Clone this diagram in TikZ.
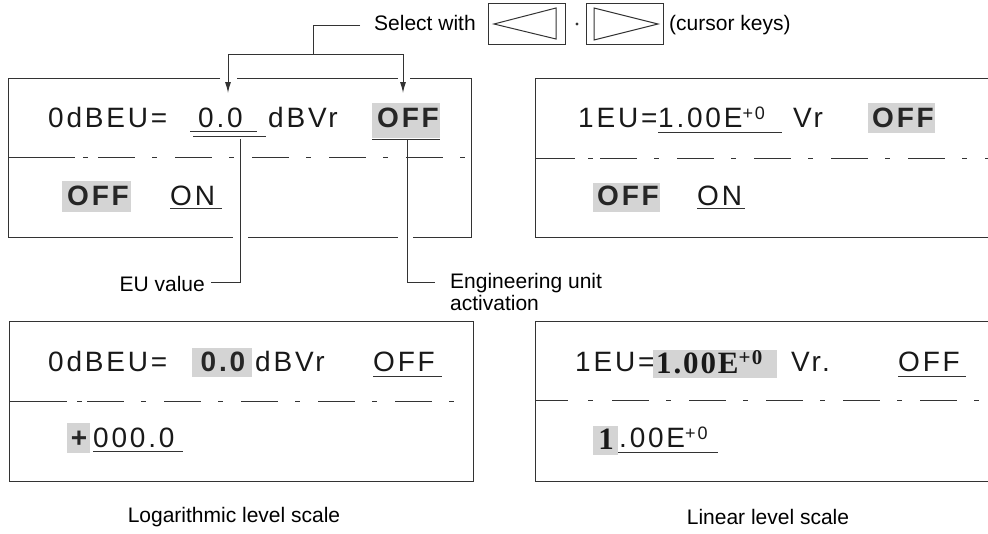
\documentclass[tikz,border=0pt]{standalone}
\usepackage{fontspec}
\setmainfont{Liberation Sans}
\newfontfamily\dispfont[LetterSpace=10]{Liberation Sans}
\newfontfamily\serfont[LetterSpace=6]{Liberation Serif}
\usetikzlibrary{arrows.meta}
\newcommand\supx[1]{\raisebox{8pt}{\fontsize{18}{18}\selectfont #1}}
\newcommand\dshrow[6]{%
  \draw[ln] (#1,#3) -- (#4,#3);
  \draw[ln] (#5,#3) -- ++(5,0);
  \draw[ln, dash pattern=on 37pt off 17pt on 5pt off 18pt] (#6,#3) -- (#2,#3);
}
\tikzset{
  ln/.style={line width=1pt, draw=black!80},
  lbl/.style={font=\fontsize{21}{25}\selectfont, inner sep=0pt, text=black},
  disp/.style={font=\dispfont\fontsize{28}{30}\selectfont, inner sep=0pt, anchor=base west, text=black!90},
  dispb/.style={font=\dispfont\bfseries\fontsize{28}{30}\selectfont, inner sep=0pt, anchor=base, text=black!85},
  serb/.style={font=\serfont\bfseries\fontsize{31}{31}\selectfont, inner sep=0pt, anchor=base west, text=black!90},
  shd/.style={fill=black!17, draw=none},
  ul/.style={line width=1pt, draw=black!80},
  arr/.style={ln, -{Latex[length=11pt,width=6pt]}},
}
\begin{document}
\begin{tikzpicture}[x=1pt,y=-1pt]
\useasboundingbox (0,0) rectangle (988,533);

% ---------- header ----------
\node[lbl, anchor=base west, inner xsep=0pt] (sel) at (374,30) {Select with};
\node[ln, draw, minimum width=77pt, minimum height=41pt, inner sep=0pt, anchor=north west] (kl) at (488,3) {};
\node[ln, draw, minimum width=77pt, minimum height=41pt, inner sep=0pt, anchor=north west] (kr) at (586,3) {};
\draw[ln, line join=miter] (494,24) -- (556,8) -- (556,39) -- cycle;
\draw[ln, line join=miter] (594,8) -- (658,24) -- (594,40) -- cycle;
\fill[black!80] (577,24) circle (1.7pt);
\node[lbl, anchor=base west] (ck) at (669,30) {(cursor keys)};

\coordinate (s0) at (360,25);
\coordinate (j) at (313,54);
\coordinate (t1) at (228,93);
\coordinate (t2) at (403,93);
\draw[ln] (s0) -| (j);
\draw[arr] (j) -| (t1);
\draw[arr] (j) -| (t2);

% ---------- top-left box ----------
\draw[ln] (220,78) -- (8,78) -- (8,237) -- (233,237);
\draw[ln] (237,78) -- (398,78);
\draw[ln] (410,78) -- (471,78) -- (471,237) -- (413,237);
\draw[ln] (248,237) -- (398,237);
\dshrow{8}{466}{157}{75}{83}{98}

\node[disp] (tla) at (48,127) {0dBEU=};
\node[disp] (tlb) at (198,127) {0.0};
\draw[ul] (190,131) -- (257,131);
\draw[ul] (193,136) -- (266,136);
\node[disp] (tlc) at (268,127) {dBVr};
\fill[shd] (372,103) rectangle (440,138);
\draw[ul] (372,139) -- (440,139);
\node[dispb] (tld) at (408,127) {OFF};
\fill[shd] (62,181) rectangle (131,212);
\node[dispb] (tle) at (98,205) {OFF};
\node[disp] (tlf) at (170,205) {ON};
\draw[ul] (170,208) -- (222,208);

% leaders
\node[lbl, anchor=east, inner xsep=6pt] (eu) at (211,284) {EU value};
\node[lbl, anchor=base west] (eng1) at (450,288) {Engineering unit};
\node[lbl, anchor=base west] (eng2) at (450,310) {activation};
\coordinate (u1) at (240,139);
\coordinate (u2) at (407,140);
\draw[ln] (u1) |- ([yshift=2pt]eu.east);
\draw[ln] (u2) |- ([xshift=-15pt]eng1.west);

% ---------- top-right box ----------
\draw[ln] (988,78) -- (535,78) -- (535,237) -- (988,237);
\dshrow{535}{988}{158}{575}{588}{600}
\node[disp] (tra) at (578,127) {1EU=};
\node[disp] (trb) at (658,127) {1.00E\supx{+0}};
\draw[ul] (658,132) -- (782,132);
\node[disp] (trc) at (793,127) {Vr};
\fill[shd] (868,103) rectangle (935,133);
\node[dispb] (trd) at (903,127) {OFF};
\fill[shd] (593,183) rectangle (660,212);
\node[dispb] (tre) at (628,205) {OFF};
\node[disp] (trf) at (697,205) {ON};
\draw[ul] (697,208) -- (745,208);

% ---------- bottom-left box ----------
\draw[ln] (9,321) rectangle (473,481);
\dshrow{9}{468}{401}{67}{77}{87}
\node[disp] (bla) at (48,371) {0dBEU=};
\fill[shd] (192,348) rectangle (252,377);
\node[dispb] (blb) at (223,371) {0.0};
\node[disp] (blc) at (255,371) {dBVr};
\node[disp] (bld) at (373,371) {OFF};
\draw[ul] (373,376) -- (442,376);
\fill[shd] (67,423) rectangle (90,453);
\node[dispb] (ble) at (79,447) {+};
\node[disp] (blf) at (93,447) {000.0};
\draw[ul] (93,451) -- (183,451);

% ---------- bottom-right box ----------
\draw[ln] (988,321) -- (535,321) -- (535,481) -- (988,481);
\dshrow{535}{988}{400}{568}{588}{612}
\node[disp] (bra) at (575,371) {1EU=};
\fill[shd] (653,350) rectangle (777,378);
\node[serb] (brb) at (656,373) {1.00E\raisebox{9pt}{\fontsize{21}{21}\selectfont +0}};
\node[disp] (brc) at (791,371) {Vr.};
\node[disp] (brd) at (898,371) {OFF};
\draw[ul] (898,376) -- (966,376);
\fill[shd] (593,426) rectangle (618,455);
\node[serb, anchor=base] (bre) at (606,449) {1};
\node[disp] (brf) at (619,447) {.00E\supx{+0}};
\draw[ul] (618,452) -- (718,452);

% ---------- captions ----------
\node[lbl] (cap1) at (234,517) {Logarithmic level scale};
\node[lbl] (cap2) at (768,517) {Linear level scale};
\end{tikzpicture}
\end{document}
